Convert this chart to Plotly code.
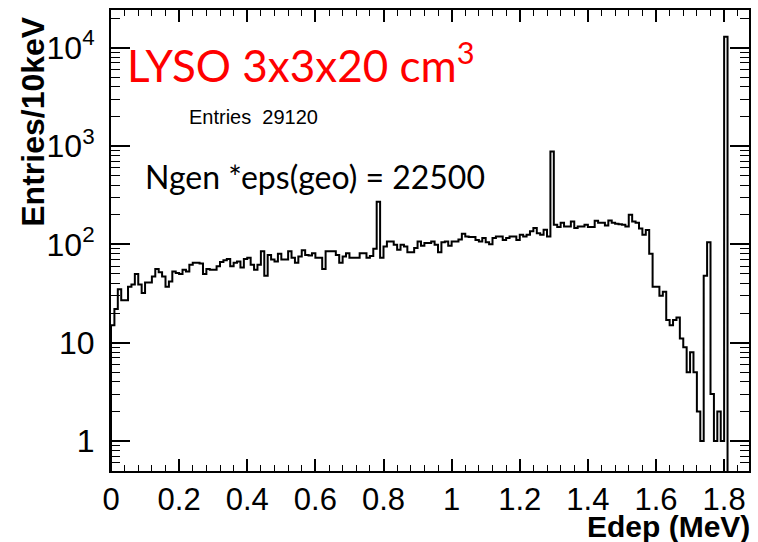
import plotly.graph_objects as go

# ---- data (counts per 10 keV bin, starting at 0 MeV) ----
bin_width = 0.01
counts = [
    15, 22, 35, 27, 27, 37, 39, 50, 39, 32, 41, 41, 47, 56, 52, 47, 37, 42, 53, 51, 50,
    55,
    53, 62, 65, 65, 64, 50, 56, 55, 55, 60, 66, 69, 71, 60, 65, 67, 58, 71, 73, 62,
    55, 62, 85, 48, 78, 70, 67, 80, 70, 70, 85, 73, 65, 75, 87, 78, 77, 81, 73, 73,
    56, 85, 85, 85, 78, 65, 75, 81, 73, 73, 73, 81, 81, 73, 76, 90,
    271,
    73, 95, 107, 107, 99, 88, 99, 95, 83, 83, 92, 107, 97, 103, 103, 107, 99, 83, 105,
    107, 97, 107, 107,
    112,
    128, 120, 119, 119, 111, 107, 116, 105, 100, 116, 120, 120, 111, 116, 120, 120,
    111, 125, 120, 125, 136, 147, 130, 125, 141, 120,
    880,
    158, 150, 166, 152, 152, 171, 147, 152, 152, 158, 150, 150, 174, 166, 166, 155,
    175, 166, 162, 160, 158, 152, 200, 171, 166, 145, 125, 140, 80, 37, 37, 30, 33,
    17, 15, 17, 18, 11, 9, 5, 8, 5, 2, 1, 48, 105, 3, 1, 2, 1,
    12900,
    0, 0, 0, 0, 0, 0, 0, 0,
]
x_tick_vals = [0, 0.2, 0.4, 0.6, 0.8, 1.0, 1.2, 1.4, 1.6, 1.8]
x_tick_text = ["0", "0.2", "0.4", "0.6", "0.8", "1", "1.2", "1.4", "1.6", "1.8"]
y_tick_vals = [1, 10, 100, 1000, 10000]
y_tick_text = ["1", "10", "10<sup>2</sup>", "10<sup>3</sup>", "10<sup>4</sup>"]
y_minor_vals = [m * 10 ** e for e in range(-1, 5) for m in range(2, 10)]
title_text = "LYSO 3x3x20 cm<sup>3</sup>"
entries_text = "Entries  29120"
ngen_text = "Ngen *eps(geo) = 22500"

# ---- histogram as step line ----
TINY = 1e-3
edges = [i * bin_width for i in range(len(counts) + 1)]
xs = [0.0] + edges
ys = [TINY] + [c if c > 0 else TINY for c in counts] + [counts[-1] if counts[-1] > 0 else TINY]

fig = go.Figure()
fig.add_trace(go.Scatter(
    x=xs, y=ys, mode="lines", line=dict(shape="hv", color="black", width=2),
    hoverinfo="skip", showlegend=False, cliponaxis=True,
))

xtick_font = dict(family="Liberation Sans, Arial, sans-serif", size=31, color="black")
ytick_font = dict(family="Liberation Sans, Arial, sans-serif", size=32, color="black")

fig.update_layout(
    width=758, height=542,
    margin=dict(l=111, r=7, t=10, b=71),
    paper_bgcolor="white", plot_bgcolor="white",
    showlegend=False,
    xaxis=dict(
        range=[0, 1.873], showgrid=False, zeroline=False,
        showline=True, linecolor="black", linewidth=2, mirror="allticks",
        ticks="inside", ticklen=12, tickwidth=1.5, tickcolor="black",
        tickmode="array", tickvals=x_tick_vals, ticktext=x_tick_text,
        tickfont=xtick_font, ticklabelstandoff=0,
        minor=dict(ticks="inside", dtick=0.04, tick0=0, ticklen=6, tickwidth=1.2,
                   tickcolor="black", showgrid=False),
    ),
    yaxis=dict(
        type="log", range=[-0.305, 4.383], showgrid=False, zeroline=False,
        showline=True, linecolor="black", linewidth=2, mirror="allticks",
        ticks="inside", ticklen=19, tickwidth=1.5, tickcolor="black",
        tickmode="array", tickvals=y_tick_vals, ticktext=y_tick_text,
        tickfont=ytick_font, ticklabelstandoff=8,
        minor=dict(ticks="inside", tickmode="array", tickvals=y_minor_vals,
                   ticklen=9, tickwidth=1.2, tickcolor="black", showgrid=False),
    ),
)

annotations = [
    dict(text="<b>Entries/10keV</b>", xref="paper", yref="paper",
         x=(33 - 111) / 640, y=(471 - 14) / 461, xanchor="center", yanchor="top",
         textangle=-90, showarrow=False,
         font=dict(family="Liberation Sans, Arial, sans-serif", size=32, color="black")),
    dict(text="<b>Edep (MeV)</b>", xref="paper", yref="paper",
         x=(754 - 111) / 640, y=(471 - 526) / 461, xanchor="right", yanchor="middle",
         showarrow=False,
         font=dict(family="Liberation Sans, Arial, sans-serif", size=30, color="black")),
    dict(text=title_text, xref="paper", yref="paper",
         x=(125 - 111) / 640, y=(471 - 62) / 461, xanchor="left", yanchor="middle",
         showarrow=False,
         font=dict(family="Lato, Open Sans, sans-serif", size=44, color="#ff0000")),
    dict(text=entries_text, xref="paper", yref="paper",
         x=(187 - 111) / 640, y=(471 - 117) / 461, xanchor="left", yanchor="middle",
         showarrow=False,
         font=dict(family="Liberation Sans, Arial, sans-serif", size=20, color="black")),
    dict(text=ngen_text, xref="paper", yref="paper",
         x=(143 - 111) / 640, y=(471 - 176) / 461, xanchor="left", yanchor="middle",
         showarrow=False,
         font=dict(family="Lato, Open Sans, sans-serif", size=32, color="black")),
]
fig.update_layout(annotations=annotations)

fig.write_html("out.html")
